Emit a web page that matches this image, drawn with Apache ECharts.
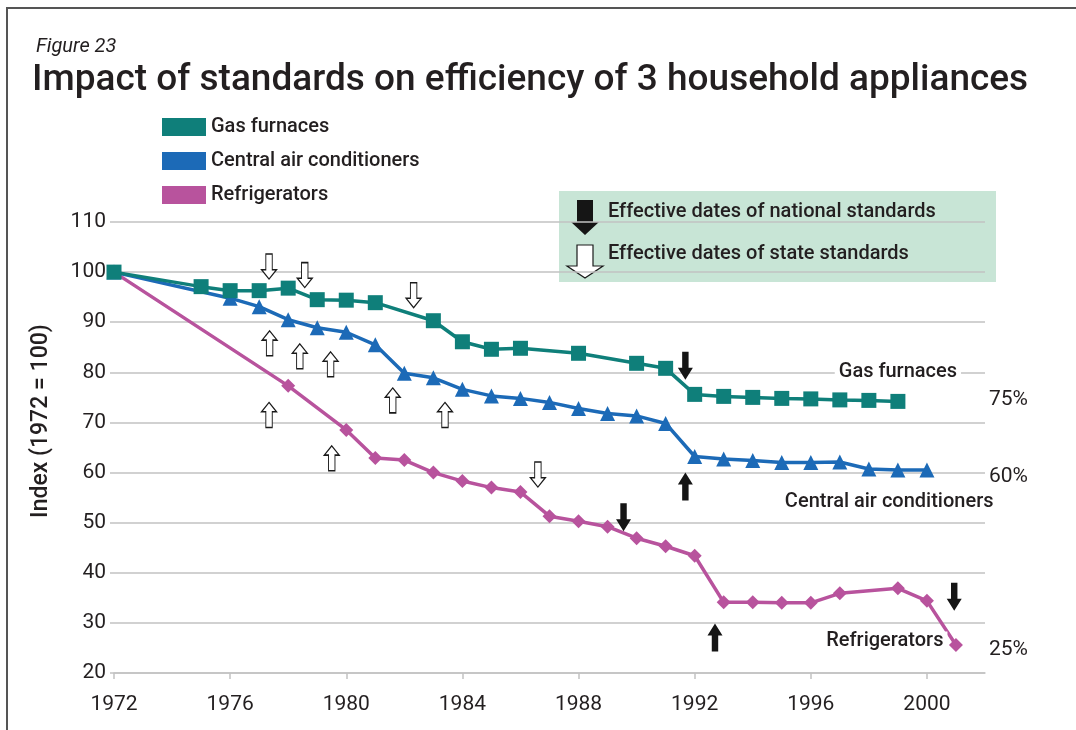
<!DOCTYPE html>
<html>
<head>
<meta charset="utf-8">
<script src="https://cdn.jsdelivr.net/npm/echarts@6/dist/echarts.min.js"></script>
<style>
  html, body { margin: 0; padding: 0; background: #fff; }
  #chart { width: 1076px; height: 730px; }
</style>
</head>
<body>
<div id="chart"></div>
<script>
// Efficiency index (1972 = 100) for three household appliances
const gasYears = [1972, 1975, 1976, 1977, 1978, 1979, 1980, 1981, 1983, 1984, 1985, 1986, 1988, 1990, 1991, 1992, 1993, 1994, 1995, 1996, 1997, 1998, 1999];
const gasIndex = [100, 97.1, 96.3, 96.3, 96.8, 94.5, 94.4, 93.9, 90.3, 86.1, 84.6, 84.8, 83.8, 81.8, 80.8, 75.6, 75.2, 75.0, 74.8, 74.7, 74.5, 74.4, 74.2];

const acYears = [1972, 1976, 1977, 1978, 1979, 1980, 1981, 1982, 1983, 1984, 1985, 1986, 1987, 1988, 1989, 1990, 1991, 1992, 1993, 1994, 1995, 1996, 1997, 1998, 1999, 2000];
const acIndex = [100, 94.8, 93.1, 90.5, 88.9, 88.0, 85.5, 79.8, 78.9, 76.6, 75.3, 74.8, 74.0, 72.8, 71.8, 71.3, 69.8, 63.2, 62.7, 62.4, 62.0, 62.0, 62.1, 60.7, 60.5, 60.5];

const fridgeYears = [1972, 1978, 1980, 1981, 1982, 1983, 1984, 1985, 1986, 1987, 1988, 1989, 1990, 1991, 1992, 1993, 1994, 1995, 1996, 1997, 1999, 2000, 2001];
const fridgeIndex = [100, 77.3, 68.5, 62.9, 62.5, 60.0, 58.3, 57.0, 56.1, 51.3, 50.3, 49.2, 46.9, 45.3, 43.4, 34.1, 34.1, 34.0, 34.0, 35.9, 36.9, 34.4, 25.6];

// Effective dates of standards, placed as [year, index]
const stateDown = [[1977.34, 101.1], [1978.57, 99.4], [1982.32, 95.4], [1986.6, 59.6]];
const stateUp = [[1977.36, 85.8], [1978.4, 83.2], [1979.46, 81.6], [1981.6, 74.4], [1983.4, 71.5], [1977.34, 71.5], [1979.5, 62.85]];
const nationalDown = [[1991.68, 81.3], [1989.55, 51.1], [2000.94, 35.2]];
const nationalUp = [[1991.68, 57.2], [1992.7, 27.1]];

// Axis ticks
const yearTicks = [1972, 1976, 1980, 1984, 1988, 1992, 1996, 2000];
const indexTicks = [20, 30, 40, 50, 60, 70, 80, 90, 100, 110];

// Series names and end-of-line callouts
const seriesNames = ['Gas furnaces', 'Central air conditioners', 'Refrigerators'];
const seriesColors = ['#0f7f7a', '#1c6ab7', '#b8539d'];
const nameCallouts = [
  { name: 'Gas furnaces', value: [1999.0, 80.0] },
  { name: 'Central air conditioners', value: [1998.7, 54.2] },
  { name: 'Refrigerators', value: [1998.55, 26.3] }
];
const shareCallouts = [
  { name: '75%', value: [2002, 74.5] },
  { name: '60%', value: [2002, 59.2] },
  { name: '25%', value: [2002, 24.6] }
];

const ink = '#231f20';
const grey = '#c2c2c2';
const font = 'Roboto, "Liberation Sans", sans-serif';

const pair = (xs, ys) => xs.map((x, i) => [x, ys[i]]);

const arrowDownBlack = 'path://M4,0 L10,0 L10,16 L14,16 L7,28 L0,16 L4,16 Z';
const arrowUpBlack = 'path://M7,0 L14,12 L10,12 L10,28 L4,28 L4,12 L0,12 Z';
const arrowDownWhite = 'path://M4,0 L10,0 L10,15 L14,15 L7,24 L0,15 L4,15 Z';
const arrowUpWhite = 'path://M7,0 L14,9 L10,9 L10,24 L4,24 L4,9 L0,9 Z';

const chart = echarts.init(document.getElementById('chart'), null, { renderer: 'canvas' });

const lineSeries = (name, data, color, symbol, size) => ({
  name: name,
  type: 'line',
  data: data,
  symbol: symbol,
  symbolSize: size,
  showAllSymbol: true,
  lineStyle: { color: color, width: 3.5 },
  itemStyle: { color: color },
  emphasis: { disabled: true },
  animation: false
});

const arrowSeries = (data, symbol, size, white) => ({
  type: 'scatter',
  data: data,
  symbol: symbol,
  symbolSize: size,
  itemStyle: white
    ? { color: '#ffffff', borderColor: '#1a1a1a', borderWidth: 1.2, opacity: 1 }
    : { color: '#151515', opacity: 1 },
  silent: true,
  clip: false,
  z: 5,
  animation: false
});

const labelFont = { fontFamily: font, fontSize: 20, fontWeight: 500, color: ink };

chart.setOption({
  backgroundColor: '#ffffff',
  animation: false,
  textStyle: { fontFamily: font },
  title: [
    {
      text: 'Figure 23',
      left: 31, top: 32,
      textStyle: { fontFamily: font, fontSize: 20, fontStyle: 'italic', fontWeight: 'normal', color: ink }
    },
    {
      text: 'Impact of standards on efficiency of 3 household appliances',
      left: 27, top: 57,
      textStyle: { fontFamily: font, fontSize: 37, fontWeight: 500, color: ink }
    }
  ],
  legend: {
    data: seriesNames.map(n => ({ name: n, icon: 'rect' })),
    orient: 'vertical',
    left: 162, top: 117,
    padding: 0,
    itemWidth: 44, itemHeight: 18, itemGap: 14,
    selectedMode: false,
    textStyle: labelFont
  },
  grid: { left: 114, right: 91, top: 222, bottom: 57, containLabel: false },
  xAxis: {
    type: 'value',
    min: 1972, max: 2002, interval: 4,
    axisLine: { show: true, lineStyle: { color: grey, width: 1.5 } },
    axisTick: { show: true, length: 6, customValues: yearTicks, lineStyle: { color: grey, width: 1.5 } },
    axisLabel: { customValues: yearTicks, formatter: v => String(v), fontFamily: font, fontSize: 21, color: ink, margin: 21 },
    splitLine: { show: false }
  },
  yAxis: {
    type: 'value',
    min: 20, max: 110, interval: 10,
    axisLine: { show: false },
    axisTick: { show: true, length: 4, customValues: indexTicks, lineStyle: { color: grey, width: 1.5 } },
    axisLabel: { customValues: indexTicks, formatter: v => String(v), fontFamily: font, fontSize: 21, color: ink, margin: 8 },
    splitLine: { show: true, lineStyle: { color: grey, width: 1.5 } }
  },
  graphic: [
    // frame edges
    { type: 'polyline', shape: { points: [[7, 730], [7, 8], [1076, 8]] }, style: { stroke: '#555', lineWidth: 2, fill: null }, silent: true },
    // y axis title
    {
      type: 'text', x: 41, y: 421, rotation: Math.PI / 2, silent: true,
      style: { text: 'Index (1972 = 100)', fontFamily: font, fontSize: 23, fontWeight: 500, fill: ink, align: 'center', verticalAlign: 'middle' }
    },
    // key for standard arrows
    { type: 'rect', shape: { x: 559, y: 191, width: 437, height: 91 }, style: { fill: '#c8e5d6' }, silent: true },
    { type: 'polygon', shape: { points: [[577, 200], [593, 200], [593, 222], [599, 222], [585, 235], [571, 222], [577, 222]] }, style: { fill: '#151515' }, silent: true },
    { type: 'polygon', shape: { points: [[577, 245], [593, 245], [593, 266], [603, 266], [585, 278], [567, 266], [577, 266]] }, style: { fill: '#ffffff', stroke: '#1a1a1a', lineWidth: 1.2 }, silent: true },
    { type: 'text', x: 608, y: 212, silent: true, style: { text: 'Effective dates of national standards', fontFamily: font, fontSize: 20, fontWeight: 500, fill: ink, verticalAlign: 'middle' } },
    { type: 'text', x: 608, y: 254, silent: true, style: { text: 'Effective dates of state standards', fontFamily: font, fontSize: 20, fontWeight: 500, fill: ink, verticalAlign: 'middle' } }
  ],
  series: [
    lineSeries(seriesNames[2], pair(fridgeYears, fridgeIndex), seriesColors[2], 'diamond', 14),
    lineSeries(seriesNames[1], pair(acYears, acIndex), seriesColors[1], 'triangle', 15),
    lineSeries(seriesNames[0], pair(gasYears, gasIndex), seriesColors[0], 'rect', 15),
    arrowSeries(stateDown, arrowDownWhite, [15, 25], true),
    arrowSeries(stateUp, arrowUpWhite, [15, 25], true),
    arrowSeries(nationalDown, arrowDownBlack, [15, 28], false),
    arrowSeries(nationalUp, arrowUpBlack, [15, 28], false),
    {
      type: 'scatter',
      data: nameCallouts,
      symbolSize: 0,
      itemStyle: { opacity: 1 },
      silent: true,
      clip: false,
      z: 6,
      label: Object.assign({
        show: true, position: 'inside', formatter: '{b}',
        backgroundColor: '#ffffff', padding: [0, 4]
      }, labelFont)
    },
    {
      type: 'scatter',
      data: shareCallouts,
      symbolSize: 0,
      itemStyle: { opacity: 1 },
      silent: true,
      clip: false,
      z: 6,
      label: {
        show: true, position: 'right', distance: 4, formatter: '{b}',
        fontFamily: font, fontSize: 21, color: ink
      }
    }
  ]
});
</script>
</body>
</html>
